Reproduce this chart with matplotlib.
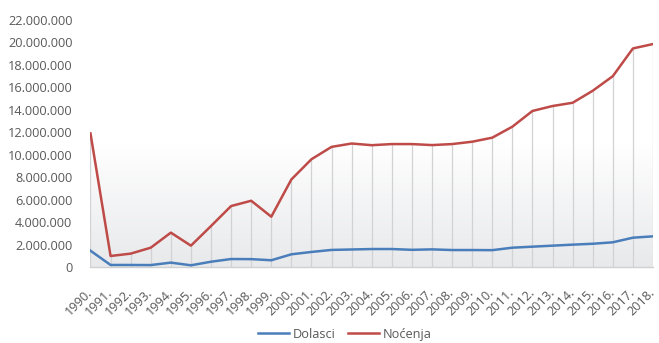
import matplotlib
matplotlib.use("Agg")
import matplotlib.pyplot as plt
import numpy as np
from matplotlib.colors import LinearSegmentedColormap

plt.rcParams['font.family'] = ['Open Sans', 'DejaVu Sans']

years = list(range(1990, 2019))
year_labels = [f"{y}." for y in years]
dolasci = [1.45, 0.18, 0.18, 0.17, 0.39, 0.15, 0.47, 0.71, 0.70, 0.60, 1.13, 1.34, 1.52,
           1.56, 1.60, 1.60, 1.53, 1.57, 1.51, 1.51, 1.50, 1.72, 1.81, 1.90, 1.99, 2.07,
           2.20, 2.61, 2.73]
nocenja = [11.9, 0.98, 1.19, 1.72, 3.06, 1.90, 3.65, 5.43, 5.90, 4.48, 7.80, 9.60, 10.70,
           11.0, 10.85, 10.95, 10.95, 10.86, 10.95, 11.16, 11.52, 12.5, 13.9, 14.34, 14.63,
           15.7, 17.0, 19.47, 19.86]
dolasci = [v * 1e6 for v in dolasci]
nocenja = [v * 1e6 for v in nocenja]
yticks = list(range(0, 22000001, 2000000))

fig = plt.figure(figsize=(6.59, 3.43), dpi=100)
ax = fig.add_axes([0.1373, 0.2216, 0.8536, 0.720])

# gradient background (white at top, light grey at bottom)
cmap = LinearSegmentedColormap.from_list("bg", ["#ffffff", "#ffffff", "#e8e9eb"], N=256)
grad = np.linspace(0, 1, 256).reshape(-1, 1)
ax.imshow(grad, aspect='auto', cmap=cmap, extent=[years[0], years[-1], 0, 22e6],
          origin='upper', zorder=0)

x = np.array(years)
# drop lines
ax.vlines(x, 0, np.maximum(nocenja, dolasci), color='#d2d2d4', lw=0.9, zorder=1)

l1, = ax.plot(x, dolasci, color='#4a7ebb', lw=1.8, label='Dolasci', zorder=3,
              solid_joinstyle='round')
l2, = ax.plot(x, nocenja, color='#be4b48', lw=1.8, label='Noćenja', zorder=3,
              solid_joinstyle='round')

ax.set_xlim(years[0], years[-1])
ax.set_ylim(0, 22e6)
ax.set_yticks(yticks)
ax.set_yticklabels([f"{v:,}".replace(",", ".") for v in yticks])
ax.set_xticks(x)
ax.set_xticklabels(year_labels, rotation=45, ha='right', va='center',
                   rotation_mode='anchor')
ax.tick_params(axis='both', length=0, colors='#595959', labelsize=9.2)
ax.tick_params(axis='y', pad=13)
ax.tick_params(axis='x', pad=17)

for s in ['top', 'right', 'left']:
    ax.spines[s].set_visible(False)
ax.spines['bottom'].set_color('#d0d0d0')
ax.spines['bottom'].set_linewidth(1.0)

leg = fig.legend(handles=[l1, l2], loc='center', bbox_to_anchor=(0.523, 0.025),
                 ncol=2, frameon=False, fontsize=9.2, handlelength=2.4,
                 columnspacing=1.0, handletextpad=0.3)
for t in leg.get_texts():
    t.set_color('#595959')

fig.savefig("out.png", dpi=100)
